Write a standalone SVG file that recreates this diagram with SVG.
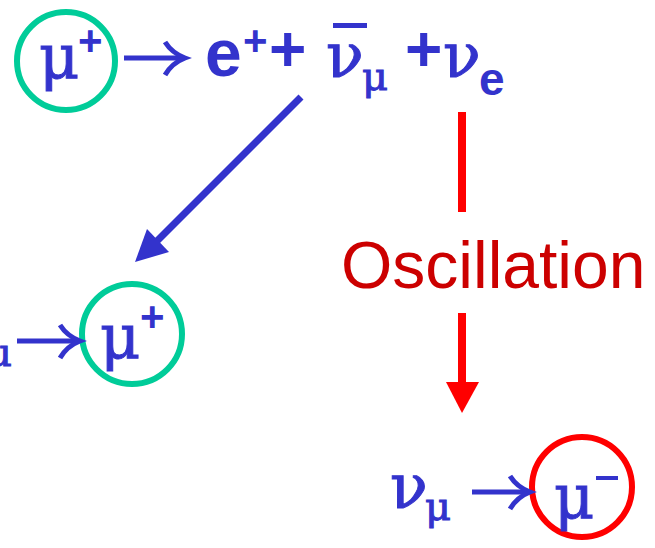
<svg xmlns="http://www.w3.org/2000/svg" width="655" height="548" viewBox="0 0 655 548">
<style>
.g{fill:none;stroke:#00CC99;stroke-width:6}
.r{fill:none;stroke:#FF0000;stroke-width:6}
.sym{font-family:"DejaVu Serif","Liberation Serif",serif;fill:#3333CC;stroke:#3333CC;stroke-width:1}
.b{font-family:"Liberation Sans",Arial,sans-serif;font-weight:bold;fill:#3333CC}
.osc{font-family:"Liberation Sans",Arial,sans-serif;fill:#CC0000;font-size:66px}
.bl{stroke:#3333CC;stroke-width:5;fill:none}
</style>
<rect width="655" height="548" fill="#fff"/>
<g id="muplus-top">
<circle class="g" cx="66" cy="61" r="49"/>
<text class="sym" x="39" y="78" font-size="62">μ</text>
<text class="b" x="78" y="55" font-size="42">+</text>
</g>
<g id="decay">
<text class="b" x="205" y="76" font-size="66">e</text>
<text class="b" x="243" y="55" font-size="42">+</text>
<text class="b" x="269" y="71" font-size="64">+</text>
<text class="sym" x="326" y="77" font-size="62">ν</text>
<rect x="333" y="23" width="34" height="5" fill="#3333CC"/>
<text class="sym" x="362" y="90" font-size="40">μ</text>
<text class="b" x="405" y="71" font-size="64">+</text>
<text class="sym" x="443" y="77" font-size="62">ν</text>
<text class="b" x="479" y="95" font-size="46">e</text>
</g>
<g id="muplus-bottom">
<circle class="g" cx="132" cy="334" r="50"/>
<text class="sym" x="100" y="358" font-size="62">μ</text>
<text class="b" x="140" y="331" font-size="42">+</text>
<text class="sym" x="-14" y="366" font-size="40">μ</text>
</g>
<g id="oscillation">
<text class="osc" x="341" y="288">Oscillation</text>
</g>
<g id="muminus">
<text class="sym" x="390" y="508" font-size="62">ν</text>
<text class="sym" x="425" y="520" font-size="40">μ</text>
<circle class="r" cx="582" cy="487" r="50"/>
<text class="sym" x="554" y="518" font-size="62">μ</text>
<rect x="596" y="476" width="22" height="4" fill="#3333CC"/>
</g>
<g id="connectors">
<line class="bl" x1="124" y1="58" x2="182" y2="58"/>
<path d="M165 42 Q172 53 185 58 Q172 63 165 75" class="bl"/>
<line class="bl" x1="17" y1="341" x2="78" y2="341"/>
<path d="M60 325 Q67 336 80 341 Q67 346 60 358" class="bl"/>
<line class="bl" x1="472" y1="492" x2="527" y2="492"/>
<path d="M510 476 Q517 487 530 492 Q517 497 510 509" class="bl"/>
<line stroke="#3333CC" stroke-width="7" x1="301" y1="97" x2="155" y2="243"/>
<polygon points="135,262 147,229 169,252" fill="#3333CC"/>
<rect x="458" y="112" width="8" height="100" fill="#FF0000"/>
<rect x="458" y="313" width="8" height="72" fill="#FF0000"/>
<polygon points="446,382 479,382 462,413" fill="#FF0000"/>
</g>
</svg>
